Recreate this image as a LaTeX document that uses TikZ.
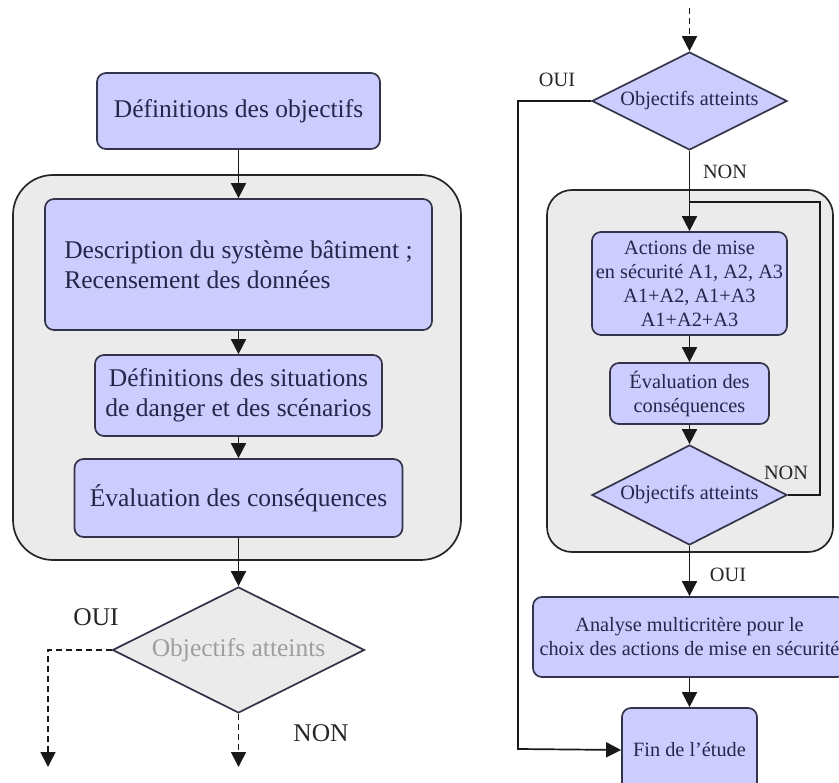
\documentclass[tikz,border=0pt]{standalone}
\usepackage{fontspec}
\setmainfont{Liberation Serif}
\usetikzlibrary{shapes.geometric,arrows.meta}
\definecolor{boxfill}{HTML}{CCCCFF}
\definecolor{boxdraw}{HTML}{33334A}
\definecolor{grayfill}{HTML}{EBEBEB}
\definecolor{txt}{HTML}{26264A}
\begin{document}
\begin{tikzpicture}[x=1pt,y=-1pt,
  bigfont/.style={font=\fontsize{25.5}{30}\selectfont},
  smallfont/.style={font=\fontsize{20.3}{24}\selectfont},
  stepbox/.style={draw=boxdraw,line width=1.7pt,fill=boxfill,rounded corners=9pt,text=txt,align=center,inner sep=0pt},
  decbox/.style={diamond,draw=boxdraw,line width=1.7pt,fill=boxfill,text=txt,inner sep=0pt,aspect=2},
  container/.style={draw=black!85,line width=1.7pt,fill=grayfill},
  arr/.style={line width=1.7pt,draw=black!90,-{Triangle[length=15pt,width=15pt]}},
  ln/.style={line width=1.7pt,draw=black!90},
  dsh/.style={dash pattern=on 6pt off 4pt},
  lab/.style={text=black!85,inner sep=0pt}
]
\useasboundingbox (0,0) rectangle (839,783);
% left column
\draw[container,rounded corners=40pt] (13,175) rectangle (461,560);
\node[stepbox,bigfont,minimum width=283pt,minimum height=76pt] (def) at (238.5,111) {Définitions des objectifs};
\node[stepbox,bigfont,minimum width=387pt,minimum height=131pt,align=left] (desc) at (238.5,264.5) {Description du système bâtiment ;\\Recensement des données};
\node[stepbox,bigfont,minimum width=287pt,minimum height=81pt] (sit) at (238.5,395.5) {Définitions des situations\\de danger et des scénarios};
\node[stepbox,bigfont,minimum width=328pt,minimum height=78pt] (eval) at (238.5,498) {Évaluation des conséquences};
\node[decbox,bigfont,fill=grayfill,text=black!38,minimum width=252pt,minimum height=126pt] (dL) at (238.5,650) {Objectifs atteints};
\coordinate (oL) at (48,767);
\coordinate (nL) at (238.5,767);
\draw[arr] (def.south) -- (desc.north);
\draw[arr] (desc.south) -- (sit.north);
\draw[arr] (sit.south) -- (eval.north);
\draw[arr] (eval.south) -- (dL.north);
\draw[arr,dsh] (dL.west) -| (oL);
\draw[arr,dsh] (dL.south) -- (nL);
\node[lab,bigfont] (ouiL) at (96,617) {OUI};
\node[lab,bigfont] (nonL) at (321,733) {NON};
% right column
\draw[container,rounded corners=25pt] (547,190) rectangle (833,552);
\coordinate (top) at (689.5,8);
\node[decbox,smallfont,minimum width=195pt,minimum height=98pt] (d1) at (689.5,101) {Objectifs atteints};
\node[stepbox,smallfont,minimum width=195pt,minimum height=103pt] (act) at (689.5,283.5) {Actions de mise\\en sécurité A1, A2, A3\\A1+A2, A1+A3\\A1+A2+A3};
\node[stepbox,smallfont,minimum width=159pt,minimum height=61pt] (ev2) at (689.5,393.5) {Évaluation des\\conséquences};
\node[decbox,smallfont,minimum width=195pt,minimum height=100pt] (d2) at (689.5,495) {Objectifs atteints};
\node[stepbox,smallfont,minimum width=313pt,minimum height=80pt] (ana) at (689.5,637) {Analyse multicritère pour le\\choix des actions de mise en sécurité};
\node[stepbox,smallfont,minimum width=135pt,minimum height=84pt] (fin) at (689.5,750) {Fin de l’étude};
\coordinate (cOui) at (518,749);
\coordinate (lp) at (820,202);
\draw[arr,dsh] (top) -- (d1.north);
\draw[arr] (d1.south) -- (act.north);
\draw[ln] (d2.east) -| (lp) -- (lp -| act.north);
\draw[arr] (act.south) -- (ev2.north);
\draw[arr] (ev2.south) -- (d2.north);
\draw[arr] (d2.south) -- (ana.north);
\draw[arr] (ana.south) -- (fin.north);
\draw[arr] (d1.west) -| (cOui) -- (fin.west);
\node[lab,smallfont] (ouiR1) at (557,80) {OUI};
\node[lab,smallfont] (nonR1) at (725,172) {NON};
\node[lab,smallfont] (nonR2) at (786,473) {NON};
\node[lab,smallfont] (ouiR2) at (728,575) {OUI};
\end{tikzpicture}
\end{document}
